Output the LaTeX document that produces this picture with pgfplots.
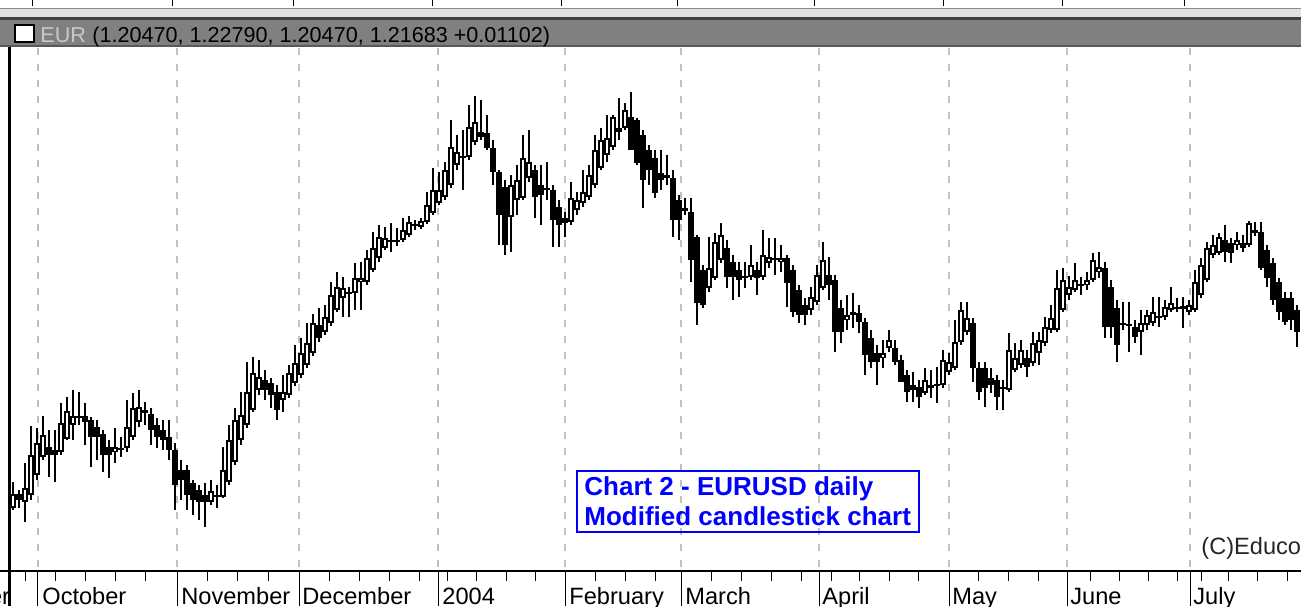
\documentclass[border=0pt]{standalone}
\usepackage{fontspec}
\setmainfont{Liberation Sans}
\usepackage{pgfplots}
\usepackage{pgfplotstable}
\pgfplotsset{compat=1.18}
\definecolor{titlebar}{HTML}{808080}
\definecolor{gridgray}{HTML}{C0C0C0}
\definecolor{eurgray}{HTML}{C8C8C8}
\definecolor{boxblue}{HTML}{0000FF}

% candle data in chart pixel units (y grows downward): open high low close
\pgfplotstableread{
x o h l c
13 508 482 510 494
19 494 490 508 500
25 502 463 522 488
31 495 426 500 455
37 475 428 480 443
43 457 416 460 435
49 447 430 477 455
55 450 430 482 455
61 452 403 455 423
67 439 397 440 411
73 425 390 440 416
79 418 392 425 416
85 416 403 445 422
91 420 417 467 437
97 427 420 460 437
103 434 430 472 455
109 447 440 478 455
115 452 428 463 447
121 450 437 457 448
127 448 400 452 427
133 437 393 440 408
139 422 390 427 407
145 410 402 425 413
151 414 408 445 430
157 425 418 448 437
163 430 420 450 440
169 437 420 460 450
175 450 443 510 485
181 470 460 500 480
187 470 465 510 495
193 483 480 515 500
199 490 485 520 502
205 495 483 527 502
211 502 480 505 491
217 495 485 508 497
223 497 447 498 470
229 482 425 485 440
235 462 408 465 420
241 440 392 445 415
247 425 362 428 392
253 410 357 412 373
259 390 360 395 377
265 380 370 400 390
271 383 378 408 395
277 392 385 420 410
283 400 375 412 392
289 395 365 398 373
295 383 345 386 363
301 375 338 378 353
307 365 323 368 343
313 353 314 356 323
319 325 308 342 338
325 332 305 335 317
331 323 282 326 295
337 310 272 312 287
343 298 277 317 288
349 292 287 317 294
355 293 263 310 278
361 282 262 310 278
367 282 250 285 258
373 270 232 272 248
379 258 225 262 237
385 248 227 250 238
391 240 223 252 242
397 242 228 246 240
403 240 218 242 230
409 235 216 237 222
415 224 220 230 226
421 227 218 229 221
427 222 192 224 205
433 213 168 215 190
439 203 172 205 190
445 197 162 200 170
451 185 120 188 147
457 165 135 170 152
463 156 130 190 158
469 157 105 160 127
475 142 96 145 122
481 132 100 140 137
487 133 115 150 148
493 148 140 185 172
499 172 170 245 215
505 187 180 255 245
511 217 175 252 185
517 200 165 215 180
523 198 135 200 158
529 178 130 182 162
535 170 165 218 197
541 185 165 225 195
547 188 162 200 190
553 190 185 247 220
559 207 200 247 225
565 218 212 237 223
571 222 182 225 198
577 210 192 215 200
583 203 170 207 192
589 197 165 200 175
595 185 135 188 150
601 168 128 170 140
607 155 115 162 138
613 147 115 150 117
619 128 98 140 132
625 128 103 130 110
631 117 92 150 150
637 120 118 165 163
643 135 130 208 180
649 150 145 185 170
655 158 150 198 193
661 173 150 190 180
667 175 155 185 178
673 178 170 237 220
679 200 195 240 220
685 208 198 215 211
691 212 198 282 260
697 237 235 325 303
703 270 265 308 305
709 288 237 292 268
715 278 233 280 242
721 260 223 263 235
727 248 240 288 277
733 262 255 300 277
739 270 262 297 280
745 277 262 288 277
751 277 245 280 265
757 270 262 295 278
763 277 230 280 255
769 263 238 268 257
775 258 238 275 260
781 262 245 272 258
787 258 255 307 283
793 270 265 317 312
799 290 285 323 315
805 305 298 325 315
811 310 287 315 297
817 302 265 305 275
823 288 242 290 260
829 275 257 300 285
835 280 275 352 332
841 308 300 343 332
847 320 295 330 315
853 313 293 328 314
859 313 305 333 322
865 322 318 375 355
871 338 330 368 362
877 353 345 385 362
883 358 340 368 353
889 348 330 352 340
895 348 340 365 362
901 360 355 382 382
907 375 370 402 392
913 385 372 402 390
919 387 380 408 397
925 393 368 395 380
931 386 370 398 387
937 385 367 403 385
943 385 350 388 360
949 372 353 375 362
955 368 320 370 342
961 342 302 345 310
967 332 302 335 318
973 323 318 382 368
979 368 362 400 392
985 368 362 407 388
991 378 368 393 385
997 380 375 410 397
1003 388 380 410 388
1009 390 333 392 350
1015 370 343 372 358
1021 365 340 368 350
1027 358 350 377 367
1033 363 332 366 343
1039 353 332 365 340
1045 343 317 346 327
1051 330 305 333 318
1057 330 270 332 288
1063 310 268 312 280
1069 295 276 300 287
1075 290 263 292 280
1081 285 277 295 285
1087 285 272 290 280
1093 280 253 282 260
1099 272 252 278 267
1105 268 262 338 327
1111 287 280 338 327
1117 308 300 362 345
1123 325 302 330 323
1129 325 302 352 325
1135 327 320 343 337
1141 332 310 355 323
1147 325 310 330 315
1153 323 297 326 312
1159 317 297 327 317
1165 317 300 320 307
1171 310 287 312 303
1177 308 298 312 308
1183 306 297 328 309
1189 312 300 315 305
1195 310 270 312 282
1201 295 258 298 265
1207 280 242 282 248
1213 255 235 258 245
1219 253 233 255 237
1225 240 225 262 252
1231 243 238 263 253
1237 245 232 250 240
1243 243 235 252 248
1249 245 221 247 223
1255 230 222 236 233
1261 232 222 270 268
1267 250 245 287 278
1273 263 258 305 300
1279 282 278 320 312
1285 298 292 325 322
1291 298 292 330 320
1297 310 305 347 332
}\candles

\pgfplotsset{candlepart/.style={only marks, mark=*, mark size=0pt,
  mark options={draw=none, fill=none}, forget plot}}

\begin{document}
\begin{tikzpicture}
\begin{axis}[x=0.5pt, y=0.5pt, xmin=0, xmax=1301, ymin=0, ymax=606,
  y dir=reverse, hide axis, clip=false]

% ---- window strip and title bar
\fill[black!12] (axis cs:0,8) rectangle (axis cs:1301,17);
\draw[black!45, line width=0.5pt] (axis cs:0,8) -- (axis cs:1301,8);
\fill[black!75] (axis cs:0,17) rectangle (axis cs:1301,19.5);
\fill[titlebar] (axis cs:0,19.5) rectangle (axis cs:1301,45);
\fill[black!65] (axis cs:0,45) rectangle (axis cs:1301,46.5);
\pgfplotsinvokeforeach{33,172,293,432,561,677,814,943,1062,1184}{
  \draw[black, line width=0.5pt] (axis cs:#1,0) -- (axis cs:#1,6);
}
\filldraw[fill=white, draw=black, line width=0.8pt] (axis cs:15,25) rectangle (axis cs:34,42);
\node[anchor=base west, inner sep=0pt, text=eurgray, font=\fontsize{10.8}{11}\selectfont] at (axis cs:40,42) {EUR};
\node[anchor=base west, inner sep=0pt, text=black, font=\fontsize{10.8}{11}\selectfont] at (axis cs:92,42) {(1.20470, 1.22790, 1.20470, 1.21683 +0.01102)};

% ---- dashed month grid
\pgfplotsinvokeforeach{38,177,299,438,565,681,819,949,1067,1190}{
  \draw[gridgray, line width=1pt, dash pattern=on 3.5pt off 4.5pt] (axis cs:#1,48) -- (axis cs:#1,570);
}

% ---- candles: wicks, bodies, hollow interiors of up candles
\addplot[candlepart,
  error bars/.cd, y dir=both, y explicit, error mark=none,
  error bar style={line width=1pt, draw=black, solid}]
  table[x=x, y expr={(\thisrow{h}+\thisrow{l})/2},
        y error expr={(\thisrow{l}-\thisrow{h})/2}] {\candles};
\addplot[candlepart,
  error bars/.cd, y dir=both, y explicit, error mark=none,
  error bar style={line width=3pt, draw=black, solid}]
  table[x=x, y expr={(\thisrow{o}+\thisrow{c})/2},
        y error expr={max(abs(\thisrow{o}-\thisrow{c})/2,1.2)}] {\candles};
\addplot[candlepart,
  error bars/.cd, y dir=both, y explicit, error mark=none,
  error bar style={line width=1.3pt, draw=white, solid}]
  table[x=x, y expr={(\thisrow{o}+\thisrow{c})/2},
        y error expr={(\thisrow{c}<\thisrow{o})*max(abs(\thisrow{o}-\thisrow{c})/2-1.6,0)}] {\candles};

% ---- annotation box
\draw[boxblue, line width=0.8pt] (axis cs:577,471) rectangle (axis cs:919,532);
\node[anchor=base west, inner sep=0pt, text=boxblue, font=\bfseries\fontsize{13}{13}\selectfont] at (axis cs:584,495) {Chart 2 - EURUSD daily};
\node[anchor=base west, inner sep=0pt, text=boxblue, font=\bfseries\fontsize{13}{13}\selectfont] at (axis cs:584,525) {Modified candlestick chart};
\node[anchor=base west, inner sep=0pt, text=black!85, font=\fontsize{11.8}{12}\selectfont] at (axis cs:1201,554) {(C)Educorp};

% ---- time axis
\draw[black, line width=1pt] (axis cs:0,571) -- (axis cs:1301,571);
\pgfplotsinvokeforeach{38,177,299,438,565,681,819,949,1067,1190}{
  \draw[black, line width=0.5pt] (axis cs:#1,571) -- (axis cs:#1,606);
}
\pgfplotsinvokeforeach{26,56,86,116,146,207,237,268,329,359,389,419,447,476,506,535,595,625,655,711,741,771,801,831,859,889,918,978,1008,1038,1090,1119,1148,1177,1201,1228,1257,1287}{
  \draw[black, line width=0.5pt] (axis cs:#1,571) -- (axis cs:#1,581);
}
\draw[black, line width=1.5pt] (axis cs:10,46.5) -- (axis cs:10,606);
\node[anchor=base east, inner sep=0pt, font=\fontsize{11.8}{12}\selectfont] at (axis cs:10.5,604) {September};
\node[anchor=base west, inner sep=0pt, font=\fontsize{11.8}{12}\selectfont] at (axis cs:42,604) {October};
\node[anchor=base west, inner sep=0pt, font=\fontsize{11.8}{12}\selectfont] at (axis cs:181,604) {November};
\node[anchor=base west, inner sep=0pt, font=\fontsize{11.8}{12}\selectfont] at (axis cs:302,604) {December};
\node[anchor=base west, inner sep=0pt, font=\fontsize{11.8}{12}\selectfont] at (axis cs:442,604) {2004};
\node[anchor=base west, inner sep=0pt, font=\fontsize{11.8}{12}\selectfont] at (axis cs:569,604) {February};
\node[anchor=base west, inner sep=0pt, font=\fontsize{11.8}{12}\selectfont] at (axis cs:685,604) {March};
\node[anchor=base west, inner sep=0pt, font=\fontsize{11.8}{12}\selectfont] at (axis cs:822,604) {April};
\node[anchor=base west, inner sep=0pt, font=\fontsize{11.8}{12}\selectfont] at (axis cs:952,604) {May};
\node[anchor=base west, inner sep=0pt, font=\fontsize{11.8}{12}\selectfont] at (axis cs:1070,604) {June};
\node[anchor=base west, inner sep=0pt, font=\fontsize{11.8}{12}\selectfont] at (axis cs:1193,604) {July};
\end{axis}
\pgfresetboundingbox
\path (0,0) rectangle (650.5pt,303pt);
\end{tikzpicture}
\end{document}
